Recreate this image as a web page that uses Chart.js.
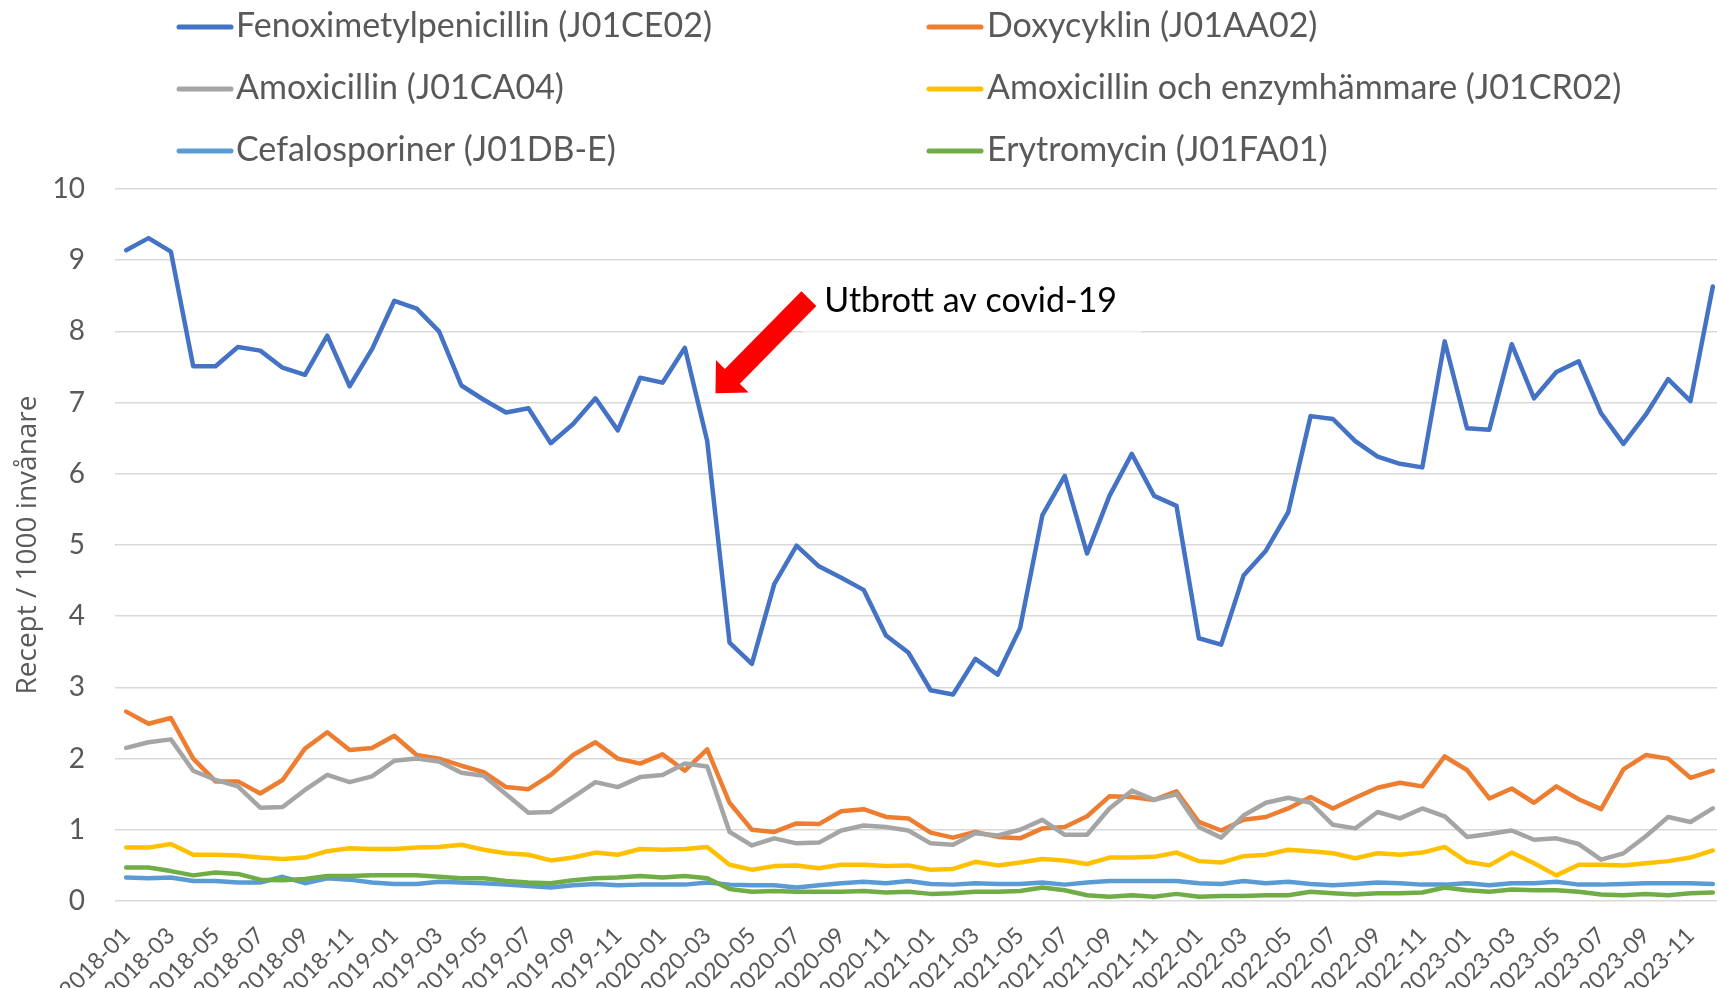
<!DOCTYPE html>
<html><head><meta charset="utf-8">
<script src="https://cdn.jsdelivr.net/npm/chart.js@4.4.1/dist/chart.umd.min.js"></script>
<style>html,body{margin:0;padding:0;overflow:hidden;background:#fff;width:1717px;height:988px}canvas{display:block}</style>
</head><body>
<canvas id="c" width="1724" height="988" style="width:1724px;height:988px"></canvas>
<script>
const months = ['2018-01','2018-02','2018-03','2018-04','2018-05','2018-06','2018-07','2018-08','2018-09','2018-10','2018-11','2018-12',
'2019-01','2019-02','2019-03','2019-04','2019-05','2019-06','2019-07','2019-08','2019-09','2019-10','2019-11','2019-12',
'2020-01','2020-02','2020-03','2020-04','2020-05','2020-06','2020-07','2020-08','2020-09','2020-10','2020-11','2020-12',
'2021-01','2021-02','2021-03','2021-04','2021-05','2021-06','2021-07','2021-08','2021-09','2021-10','2021-11','2021-12',
'2022-01','2022-02','2022-03','2022-04','2022-05','2022-06','2022-07','2022-08','2022-09','2022-10','2022-11','2022-12',
'2023-01','2023-02','2023-03','2023-04','2023-05','2023-06','2023-07','2023-08','2023-09','2023-10','2023-11','2023-12'];

const fenoximetylpenicillin = [9.14,9.31,9.12,7.51,7.51,7.78,7.73,7.49,7.39,7.94,7.23,7.75,
8.43,8.32,8.00,7.24,7.04,6.86,6.92,6.43,6.70,7.06,6.61,7.35,
7.28,7.77,6.46,3.63,3.33,4.45,4.99,4.70,4.54,4.37,3.73,3.49,
2.96,2.90,3.40,3.18,3.83,5.42,5.97,4.88,5.69,6.28,5.69,5.55,
3.69,3.60,4.57,4.92,5.46,6.81,6.77,6.46,6.24,6.14,6.09,7.86,
6.64,6.62,7.82,7.06,7.43,7.58,6.85,6.42,6.83,7.33,7.02,8.63];

const doxycyklin = [2.66,2.49,2.57,2.00,1.68,1.68,1.51,1.70,2.14,2.37,2.12,2.15,
2.32,2.05,2.00,1.90,1.81,1.60,1.57,1.77,2.05,2.23,2.00,1.93,
2.06,1.83,2.13,1.38,1.00,0.97,1.09,1.08,1.26,1.29,1.18,1.16,
0.96,0.89,0.97,0.90,0.88,1.02,1.04,1.19,1.47,1.46,1.42,1.54,
1.11,0.99,1.14,1.18,1.30,1.46,1.30,1.45,1.59,1.66,1.61,2.03,
1.84,1.44,1.58,1.38,1.61,1.43,1.29,1.85,2.05,2.00,1.73,1.83];

const amoxicillin = [2.15,2.23,2.27,1.83,1.70,1.61,1.31,1.32,1.56,1.77,1.67,1.75,
1.97,2.00,1.96,1.80,1.76,1.50,1.24,1.25,1.46,1.67,1.60,1.74,
1.77,1.93,1.89,0.97,0.78,0.88,0.81,0.82,0.99,1.06,1.04,0.99,
0.81,0.79,0.95,0.92,1.00,1.14,0.93,0.93,1.30,1.55,1.42,1.50,
1.04,0.89,1.20,1.38,1.45,1.38,1.07,1.02,1.25,1.16,1.30,1.19,
0.90,0.94,0.99,0.86,0.88,0.80,0.58,0.67,0.91,1.18,1.11,1.30];

const amoxicillinEnzym = [0.75,0.75,0.80,0.65,0.65,0.64,0.61,0.59,0.61,0.70,0.74,0.73,
0.73,0.75,0.76,0.79,0.72,0.67,0.65,0.57,0.61,0.68,0.65,0.73,
0.72,0.73,0.76,0.51,0.44,0.49,0.50,0.46,0.51,0.51,0.49,0.50,
0.44,0.45,0.55,0.50,0.54,0.59,0.57,0.52,0.61,0.61,0.62,0.68,
0.56,0.54,0.63,0.65,0.72,0.70,0.67,0.60,0.67,0.65,0.68,0.76,
0.55,0.50,0.68,0.53,0.36,0.51,0.51,0.50,0.53,0.56,0.61,0.71];

const cefalosporiner = [0.33,0.32,0.33,0.28,0.28,0.26,0.26,0.34,0.25,0.32,0.30,0.26,
0.24,0.24,0.27,0.26,0.25,0.23,0.21,0.19,0.22,0.24,0.22,0.23,
0.23,0.23,0.26,0.23,0.22,0.22,0.19,0.22,0.25,0.27,0.25,0.28,
0.24,0.23,0.25,0.24,0.24,0.26,0.23,0.26,0.28,0.28,0.28,0.28,
0.25,0.24,0.28,0.25,0.27,0.24,0.22,0.24,0.26,0.25,0.23,0.23,
0.25,0.22,0.25,0.25,0.27,0.23,0.23,0.24,0.25,0.25,0.25,0.24];

const erytromycin = [0.47,0.47,0.42,0.36,0.40,0.38,0.30,0.29,0.31,0.35,0.35,0.36,
0.36,0.36,0.34,0.32,0.32,0.28,0.26,0.25,0.29,0.32,0.33,0.35,
0.33,0.35,0.32,0.17,0.13,0.14,0.13,0.13,0.13,0.14,0.12,0.13,
0.10,0.11,0.13,0.13,0.14,0.19,0.15,0.08,0.06,0.08,0.06,0.10,
0.06,0.07,0.07,0.08,0.08,0.13,0.11,0.09,0.11,0.11,0.12,0.19,
0.15,0.13,0.16,0.15,0.15,0.13,0.09,0.08,0.10,0.08,0.11,0.12];

const seriesNames = ['Fenoximetylpenicillin (J01CE02)','Doxycyklin (J01AA02)','Amoxicillin (J01CA04)',
  'Amoxicillin och enzymhämmare (J01CR02)','Cefalosporiner (J01DB-E)','Erytromycin (J01FA01)'];
const seriesColors = ['#4472C4','#ED7D31','#A5A5A5','#FFC000','#5B9BD5','#70AD47'];
const seriesValues = [fenoximetylpenicillin, doxycyklin, amoxicillin, amoxicillinEnzym, cefalosporiner, erytromycin];

const yAxisTitle = 'Recept / 1000 invånare';
const yMin = 0, yMax = 10, yStep = 1;

const annotationText = 'Utbrott av covid-19';
// annotation anchors in data coordinates (category index, value)
const arrowTail = {x: 30.55, y: 8.46};
const arrowTip = {x: 26.37, y: 7.13};
const textAnchor = {x: 31.24, y: 8.27};
const textBox = {x0: 30.3, x1: 45.43, y0: 7.95, y1: 8.9};

const FONT = 'Lato, "Noto Sans", sans-serif';

const legendPlugin = {
  id: 'gridLegend',
  afterDraw(chart) {
    const ctx = chart.ctx;
    ctx.save();
    const cols = [{l0: 179, l1: 231, tx: 236}, {l0: 929, l1: 981, tx: 987}];
    const baselines = [37, 99, 161];
    chart.data.datasets.forEach((ds, i) => {
      const c = cols[i % 2], r = Math.floor(i / 2);
      const ly = baselines[r] - 10;
      ctx.strokeStyle = ds.borderColor; ctx.lineWidth = 5; ctx.lineCap = 'round';
      ctx.beginPath(); ctx.moveTo(c.l0, ly); ctx.lineTo(c.l1, ly); ctx.stroke();
      ctx.fillStyle = '#595959'; ctx.font = '34px ' + FONT; ctx.textBaseline = 'alphabetic'; ctx.textAlign = 'left';
      ctx.fillText(ds.label, c.tx, baselines[r]);
    });
    ctx.restore();
  }
};

const annotationPlugin = {
  id: 'covidAnnotation',
  afterDatasetsDraw(chart) {
    const ctx = chart.ctx, xs = chart.scales.x, ys = chart.scales.y;
    const px = p => ({x: xs.getPixelForValue(p.x), y: ys.getPixelForValue(p.y)});
    ctx.save();
    const bx0 = xs.getPixelForValue(textBox.x0), bx1 = xs.getPixelForValue(textBox.x1);
    const by0 = ys.getPixelForValue(textBox.y1), by1 = ys.getPixelForValue(textBox.y0);
    ctx.fillStyle = 'rgba(255,255,255,0.6)';
    ctx.fillRect(bx0, by0, bx1 - bx0, by1 - by0);
    const T = px(arrowTail), P = px(arrowTip);
    let dx = P.x - T.x, dy = P.y - T.y; const L = Math.hypot(dx, dy); dx /= L; dy /= L;
    const nx = -dy, ny = dx;
    const headLen = 24, headHalf = 23, shaftHalf = 10.5;
    const bx = P.x - dx * headLen, by = P.y - dy * headLen;
    ctx.fillStyle = '#FF0000';
    ctx.beginPath();
    ctx.moveTo(T.x + nx * shaftHalf, T.y + ny * shaftHalf);
    ctx.lineTo(bx + nx * shaftHalf, by + ny * shaftHalf);
    ctx.lineTo(bx + nx * headHalf, by + ny * headHalf);
    ctx.lineTo(P.x, P.y);
    ctx.lineTo(bx - nx * headHalf, by - ny * headHalf);
    ctx.lineTo(bx - nx * shaftHalf, by - ny * shaftHalf);
    ctx.lineTo(T.x - nx * shaftHalf, T.y - ny * shaftHalf);
    ctx.closePath(); ctx.fill();
    const A = px(textAnchor);
    ctx.fillStyle = '#000'; ctx.font = '34px ' + FONT; ctx.textBaseline = 'alphabetic'; ctx.textAlign = 'left';
    ctx.fillText(annotationText, A.x, A.y);
    ctx.restore();
  }
};

new Chart(document.getElementById('c'), {
  type: 'line',
  data: {
    labels: months,
    datasets: seriesValues.map((vals, i) => ({
      label: seriesNames[i], data: vals, borderColor: seriesColors[i], backgroundColor: seriesColors[i],
      borderWidth: 4.5, pointRadius: 0, pointHoverRadius: 0, tension: 0, fill: false,
      borderJoinStyle: 'round', borderCapStyle: 'round', order: seriesValues.length - i
    }))
  },
  options: {
    responsive: false, animation: false, devicePixelRatio: 1,
    layout: {padding: {top: 189, left: 0, right: 0, bottom: 0}},
    plugins: {legend: {display: false}, tooltip: {enabled: false}},
    scales: {
      x: {
        type: 'category', offset: true,
        grid: {display: false, drawTicks: false}, border: {display: false},
        ticks: {autoSkip: false, minRotation: 45, maxRotation: 45, padding: 21, color: '#595959',
          font: {family: FONT, size: 23},
          callback(v, i) { return i % 2 === 0 ? this.getLabelForValue(v) : null; }},
        afterFit(s) { s.height = 87; s.paddingLeft = 0; s.paddingRight = 0; }
      },
      y: {
        min: yMin, max: yMax,
        ticks: {stepSize: yStep, padding: 30, color: '#595959', font: {family: FONT, size: 28}},
        grid: {color: '#D9D9D9', lineWidth: 1.5, drawTicks: false}, border: {display: false},
        title: {display: true, text: yAxisTitle, color: '#595959', font: {family: '"Open Sans", sans-serif', size: 28},
          padding: {top: 11, bottom: 0}},
        afterFit(s) { s.width = 115; }
      }
    }
  },
  plugins: [legendPlugin, annotationPlugin]
});
</script>
</body></html>
